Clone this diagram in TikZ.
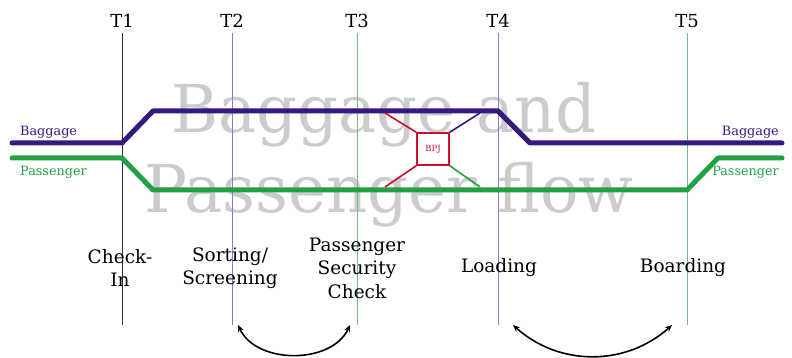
\documentclass[tikz,border=0pt]{standalone}
\usepackage{fontspec}
\setmainfont{DejaVu Serif}
\usetikzlibrary{arrows.meta}
\definecolor{bagdark}{HTML}{35197F}
\definecolor{baglight}{HTML}{8A7AC8}
\definecolor{pasdark}{HTML}{22A046}
\definecolor{paslight}{HTML}{6CC082}
\definecolor{bpjred}{HTML}{C8102E}
\definecolor{wmgray}{HTML}{CCCCCC}
\tikzset{
  tlabel/.style={font=\fontsize{18}{20}\selectfont, text=black, inner sep=0pt},
  steplabel/.style={font=\fontsize{18.5}{23.5}\selectfont, align=center, inner sep=0pt},
  flowlabel/.style={font=\fontsize{12.8}{14}\selectfont, inner sep=0pt},
  flowline/.style={line width=5pt, line cap=round, line join=round},
  timeline/.style={line width=1pt},
  bpjline/.style={line width=1.6pt},
  swaparrow/.style={line width=1.6pt, {Stealth[length=7pt,width=6pt]}-{Stealth[length=7pt,width=6pt]}},
  watermark/.style={font=\fontsize{66}{77}\selectfont, text=wmgray, inner sep=0pt, xscale=0.97, anchor=base}
}
\begin{document}
\begin{tikzpicture}[x=1pt,y=1pt]
\useasboundingbox (0,0) rectangle (792,-358);
% watermark
\node[watermark] (wm1) at (384,-133) {Baggage and};
\node[watermark] (wm2) at (389,-212) {Passenger flow};
% time lines
\coordinate (t1a) at (122,-33); \coordinate (t1b) at (122,-325);
\coordinate (t2a) at (232,-33); \coordinate (t2b) at (232,-325);
\coordinate (t3a) at (357,-33); \coordinate (t3b) at (357,-325);
\coordinate (t4a) at (498,-33); \coordinate (t4b) at (498,-325);
\coordinate (t5a) at (687,-33); \coordinate (t5b) at (687,-325);
\draw[timeline, black!80] (t1a) -- (t1b);
\draw[timeline, baglight] (t2a) -- (t2b);
\draw[timeline, paslight] (t3a) -- (t3b);
\draw[timeline, baglight] (t4a) -- (t4b);
\draw[timeline, paslight] (t5a) -- (t5b);
\node[tlabel] (T1) at (122,-21) {T1};
\node[tlabel] (T2) at (232,-21) {T2};
\node[tlabel] (T3) at (357,-21) {T3};
\node[tlabel] (T4) at (498,-21) {T4};
\node[tlabel] (T5) at (687,-21) {T5};
% flow lines
\coordinate (b0) at (12,-143); \coordinate (b1) at (122,-143);
\coordinate (b2) at (153,-111); \coordinate (b3) at (498,-111);
\coordinate (b4) at (530,-143); \coordinate (b5) at (782,-143);
\coordinate (p0) at (12,-158); \coordinate (p1) at (122,-158);
\coordinate (p2) at (153,-190); \coordinate (p3) at (687,-190);
\coordinate (p4) at (718,-158); \coordinate (p5) at (782,-158);
\draw[flowline, bagdark] (b0) -- (b1) -- (b2) -- (b3) -- (b4) -- (b5);
\draw[flowline, pasdark] (p0) -- (p1) -- (p2) -- (p3) -- (p4) -- (p5);
\node[flowlabel, text=bagdark, anchor=base west] (bagL) at (20,-136) {Baggage};
\node[flowlabel, text=pasdark, anchor=base west] (pasL) at (20,-176) {Passenger};
\node[flowlabel, text=bagdark, anchor=base east] (bagR) at (779,-136) {Baggage};
\node[flowlabel, text=pasdark, anchor=base east] (pasR) at (779,-176) {Passenger};
% BPJ
\node[draw=bpjred, bpjline, minimum width=32pt, minimum height=32pt, inner sep=0pt,
      text=bpjred, font=\fontsize{8.5}{9}\selectfont] (bpj) at (433,-149) {BPJ};
\coordinate (j1) at (385,-113); \coordinate (j2) at (385,-187);
\coordinate (j3) at (480,-113); \coordinate (j4) at (480,-187);
\draw[bpjline, bpjred] (bpj.north west) -- (j1);
\draw[bpjline, bpjred] (bpj.south west) -- (j2);
\draw[bpjline, bagdark] (bpj.north east) -- (j3);
\draw[bpjline, pasdark] (bpj.south east) -- (j4);
% step labels
\node[steplabel] (s1) at (120,-268) {Check-\\In};
\node[steplabel] (s2) at (230,-268) {Sorting/\\Screening};
\node[steplabel] (s3) at (357,-268) {Passenger\\Security\\Check};
\node[steplabel] (s4) at (499,-268) {Loading};
\node[steplabel] (s5) at (683,-268) {Boarding};
% swap arrows
\coordinate (a1) at (238,-325); \coordinate (a2) at (350,-325);
\coordinate (a3) at (513,-325); \coordinate (a4) at (672,-325);
\draw[swaparrow] (a1) to[bend right=65] (a2);
\draw[swaparrow] (a3) to[bend right=42] (a4);
\end{tikzpicture}
\end{document}
